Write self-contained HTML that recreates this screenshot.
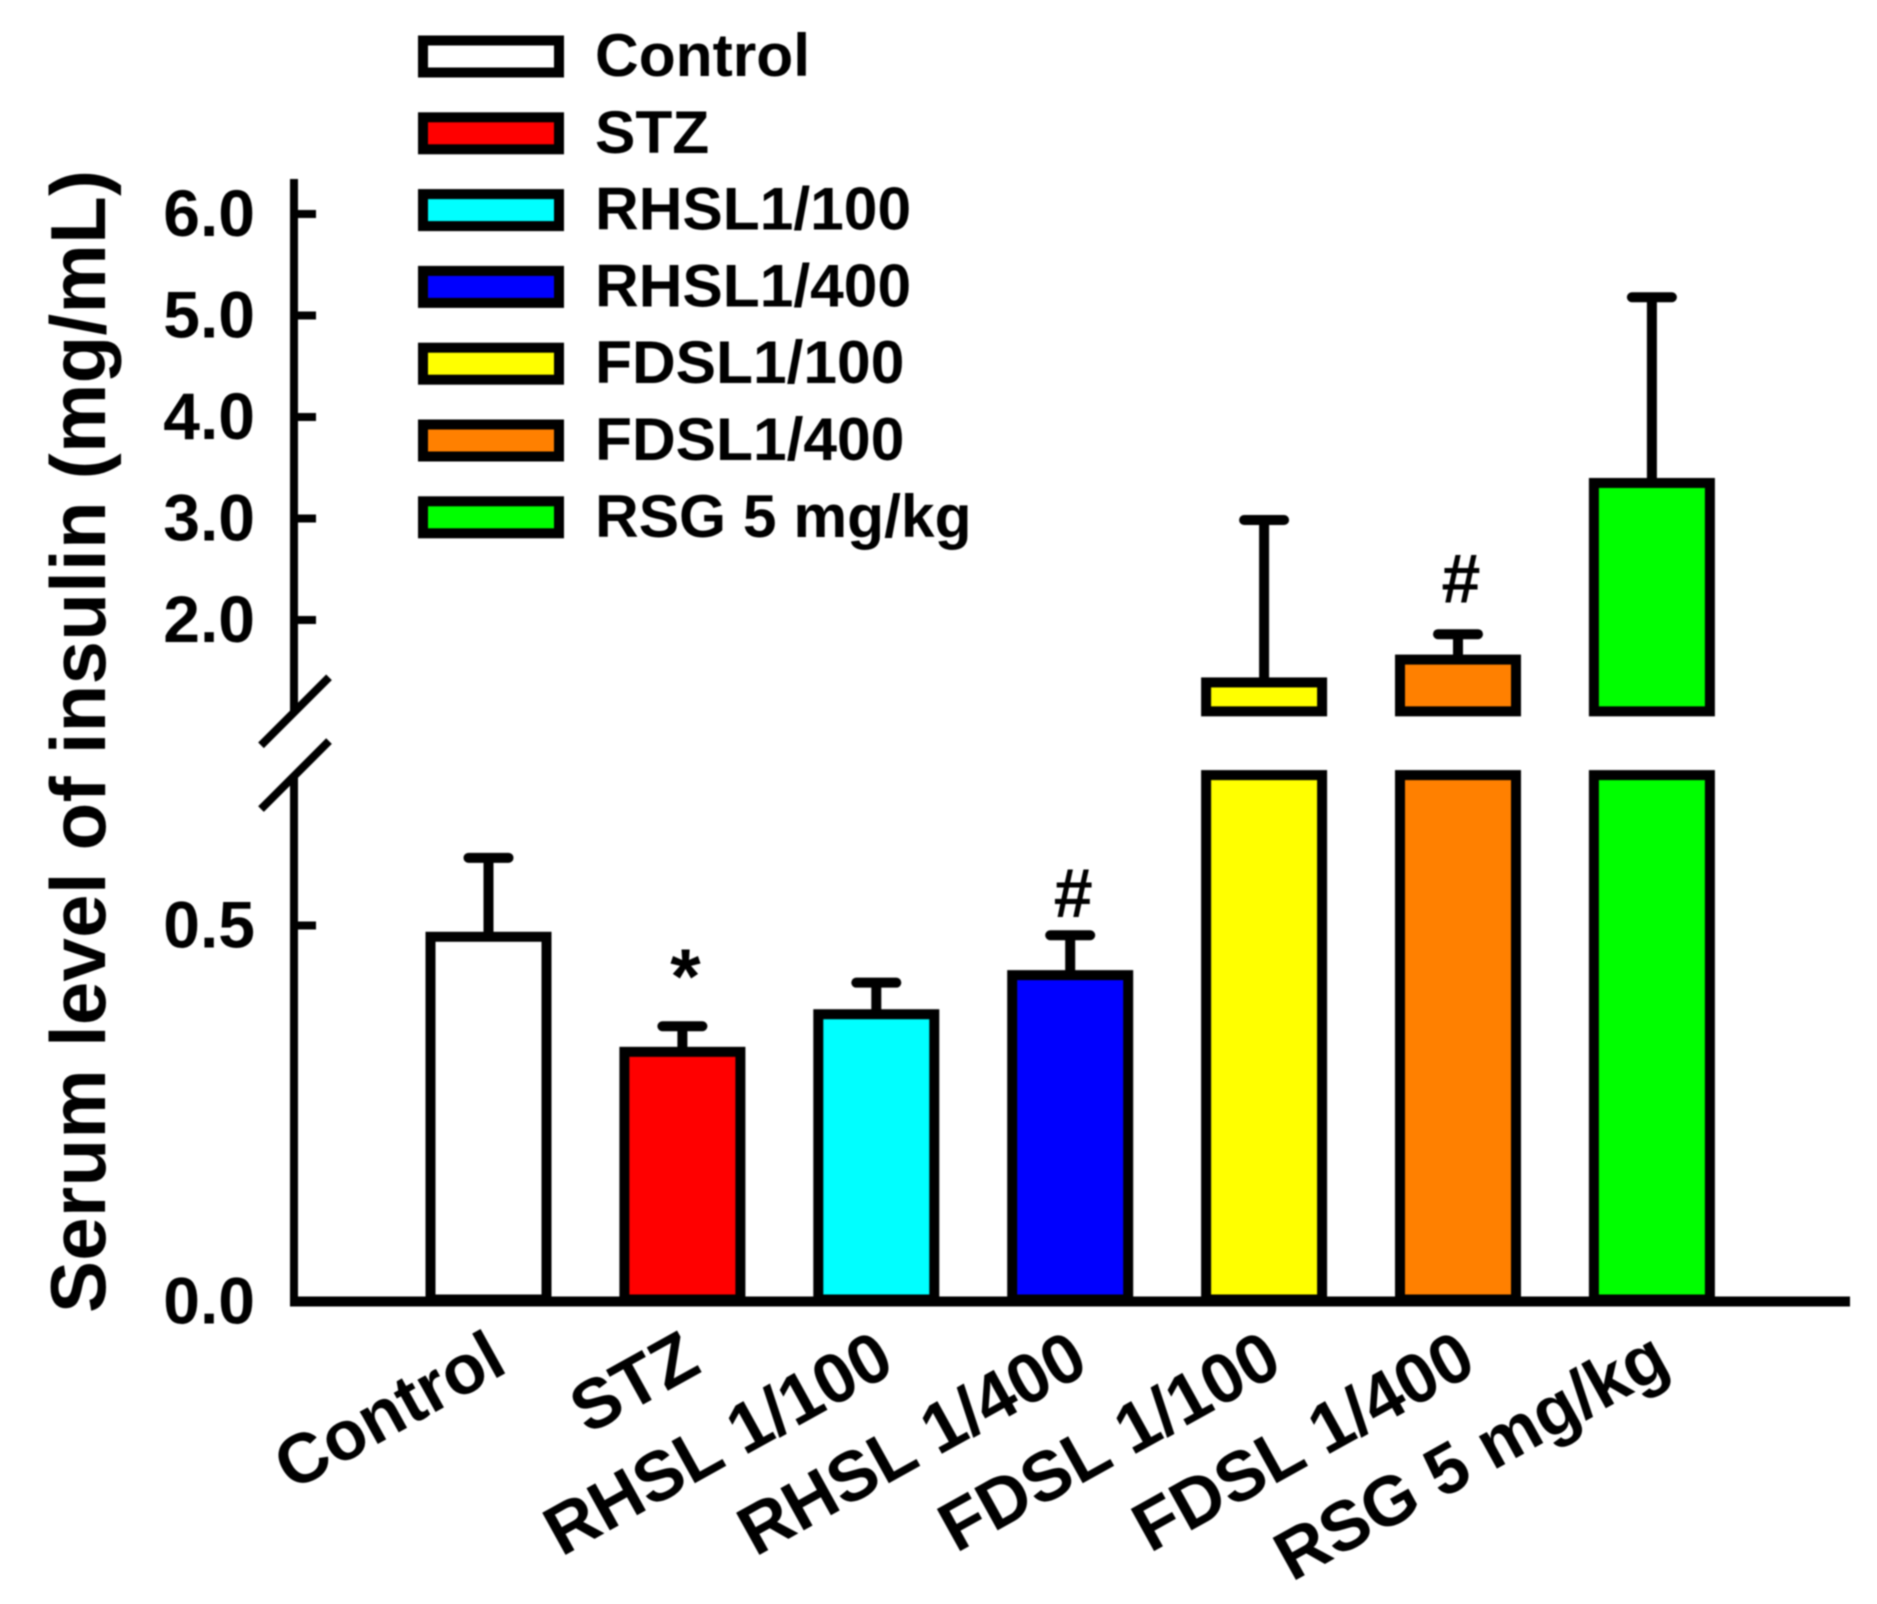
<!DOCTYPE html>
<html lang="en">
<head>
<meta charset="utf-8">
<title>Serum level of insulin</title>
<style>
html,body{margin:0;padding:0;background:#fff;}
svg{display:block;filter:blur(0.9px);}
text{font-family:"Liberation Sans",sans-serif;font-weight:bold;fill:#000;}
</style>
</head>
<body>
<svg id="chart" xmlns="http://www.w3.org/2000/svg" width="1877" height="1604" viewBox="0 0 1877 1604">
  <rect width="1877" height="1604" fill="#fff"/>
  <text transform="translate(105,1313) rotate(-90)" font-size="78" textLength="1143" lengthAdjust="spacing">Serum level of insulin (mg/mL)</text>
  <g id="legend"></g>
  <g id="bars"></g>
  <g id="axes"></g>
  <g id="annotations"></g>
</svg>
<script>
const categories = ["Control", "STZ", "RHSL 1/100", "RHSL 1/400", "FDSL 1/100", "FDSL 1/400", "RSG 5 mg/kg"];
const legendLabels = ["Control", "STZ", "RHSL1/100", "RHSL1/400", "FDSL1/100", "FDSL1/400", "RSG 5 mg/kg"];
const barColors = ["#ffffff", "#ff0000", "#00ffff", "#0000ff", "#ffff00", "#ff8000", "#00ff00"];
const means = [0.485, 0.332, 0.382, 0.434, 1.385, 1.61, 3.35];
const errorTops = [0.59, 0.366, 0.424, 0.487, 2.985, 1.86, 5.18];
const significance = ["", "*", "", "#", "", "#", ""];
const significanceLevels = [null, 0.397, null, 0.511, null, 2.17, null];
const lowerTicks = [0.0, 0.5];
const upperTicks = [2.0, 3.0, 4.0, 5.0, 6.0];
const lowerMax = 0.7;
const upperMin = 1.1;

const NS = "http://www.w3.org/2000/svg";
const yLow = v => 1301.5 - v * 752;
const yHigh = v => 620 - (v - 2) * 101.5;
const yVal = v => v <= lowerMax ? yLow(v) : yHigh(v);
const xBand = i => 488.5 + i * 193.9;

function mk(tag, parent) {
  const el = document.createElementNS(NS, tag);
  parent.appendChild(el);
  return el;
}
function setAll(el, props) {
  for (const k in props) el.setAttribute(k, props[k]);
  return el;
}

const barsG = document.getElementById("bars");
const axesG = document.getElementById("axes");
const legendG = document.getElementById("legend");
const annG = document.getElementById("annotations");

/* bars and error bars */
categories.forEach((cat, i) => {
  const cx = xBand(i);
  const left = cx - 58, w = 116;
  const m = means[i], top = errorTops[i];

  const errLine = mk("line", barsG);
  
  
  setAll(errLine, {x1: cx, x2: cx, y1: yVal(m), y2: yVal(top), stroke: "#000", "stroke-width": 10});

  const errCap = mk("line", barsG);
  
  
  setAll(errCap, {x1: cx - 20, x2: cx + 20, y1: yVal(top), y2: yVal(top), stroke: "#000", "stroke-width": 10, "stroke-linecap": "round"});

  const seg = mk("rect", barsG);
  
  
  const lowTop = yLow(Math.min(m, lowerMax));
  setAll(seg, {x: left, y: lowTop, width: w, height: yLow(0) - lowTop - 2, fill: barColors[i], stroke: "#000", "stroke-width": 10});

  if (m > lowerMax) {
    const upper = mk("rect", barsG);
    
    
    const upTop = yHigh(m);
    setAll(upper, {x: left, y: upTop, width: w, height: yHigh(upperMin) - upTop, fill: barColors[i], stroke: "#000", "stroke-width": 10});
  }

  if (significance[i]) {
    const s = mk("text", annG);
    
    
    const isStar = significance[i] === "*";
    setAll(s, {x: cx + 3, y: yVal(significanceLevels[i]), "text-anchor": "middle", "font-size": isStar ? 78 : 70});
    s.textContent = significance[i];
  }

  const lab = mk("text", axesG);
  
  
  setAll(lab, {"text-anchor": "end", "font-size": 70, transform: "translate(" + (cx + 21) + "," + 1371 + ") rotate(-29)"});
  lab.textContent = cat;
});

/* y axis segments */
const upperAxis = mk("line", axesG);


setAll(upperAxis, {x1: 294, x2: 294, y1: 179, y2: yHigh(upperMin) + 1, stroke: "#000", "stroke-width": 8});

const lowerAxis = mk("line", axesG);


setAll(lowerAxis, {x1: 294, x2: 294, y1: yLow(lowerMax), y2: yLow(0) + 5, stroke: "#000", "stroke-width": 8});

const breakOffsets = [yHigh(upperMin), yLow(lowerMax)];
breakOffsets.forEach(yb => {
  const br = mk("line", axesG);
  
  
  setAll(br, {x1: 261, y1: yb + 34, x2: 329, y2: yb - 34, stroke: "#000", "stroke-width": 8});
});

const xAxis = mk("line", axesG);


setAll(xAxis, {x1: 290, x2: 1850, y1: yLow(0), y2: yLow(0), stroke: "#000", "stroke-width": 10});

function yTick(v, yFn) {
  const y = yFn(v);
  if (v > 0) {
    const t = mk("line", axesG);
    
    
    setAll(t, {x1: 294, x2: 316, y1: y, y2: y, stroke: "#000", "stroke-width": 8});
  }
  const l = mk("text", axesG);
  
  
  setAll(l, {x: 255, y: y + 22, "text-anchor": "end", "font-size": 66});
  l.textContent = v.toFixed(1);
}
lowerTicks.forEach(v => yTick(v, yLow));
upperTicks.forEach(v => yTick(v, yHigh));

/* legend */
legendLabels.forEach((name, i) => {
  const cy = 56.5 + i * 76.8;
  const sw = mk("rect", legendG);
  
  
  setAll(sw, {x: 423, y: cy - 16, width: 136, height: 32, fill: barColors[i], stroke: "#000", "stroke-width": 10});
  const tx = mk("text", legendG);
  
  
  setAll(tx, {x: 595, y: cy + 19.5, "font-size": 60.5});
  tx.textContent = name;
});
</script>
</body>
</html>
